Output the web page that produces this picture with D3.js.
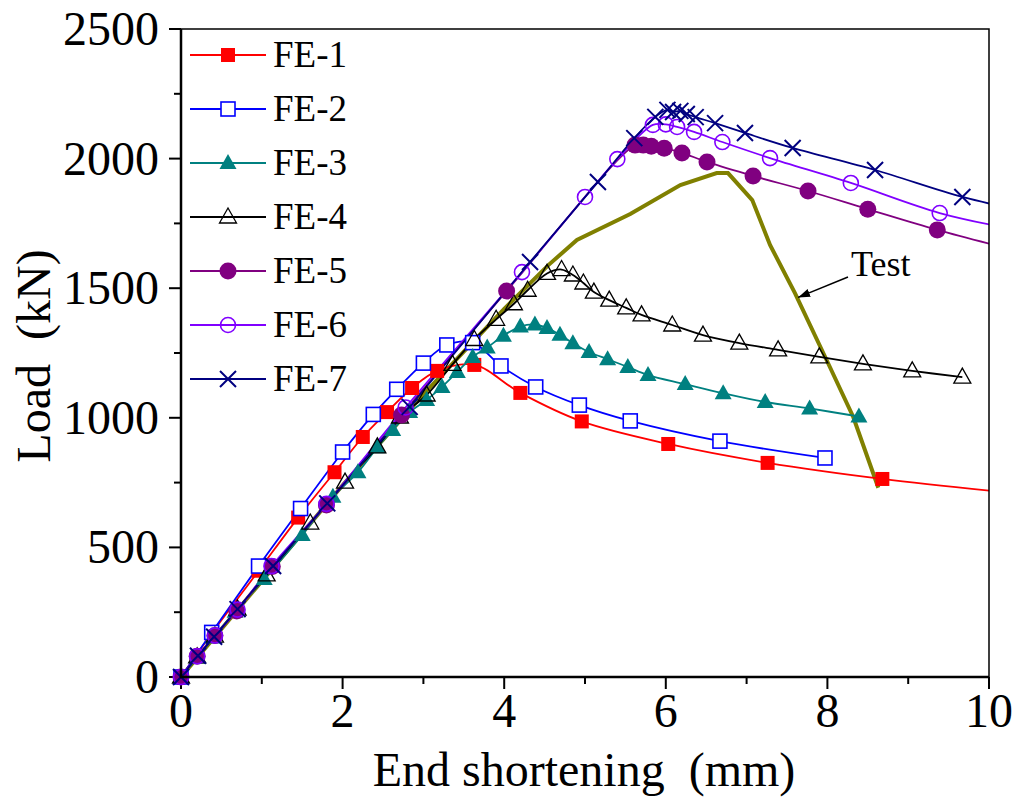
<!DOCTYPE html>
<html><head><meta charset="utf-8">
<script src="https://cdn.jsdelivr.net/npm/d3@7"></script>
<style>body{margin:0;background:#fff}svg{display:block}text{font-family:"Liberation Serif","Times New Roman",serif;fill:#000;white-space:pre}</style>
</head><body><svg id="c" width="1019" height="797"></svg>
<script>
// ---- data ----
const xTicks = [0, 2, 4, 6, 8, 10];
const yTicks = [0, 500, 1000, 1500, 2000, 2500];
const seriesNames = ["FE-1","FE-2","FE-3","FE-4","FE-5","FE-6","FE-7"];
const fe1 = [[0,0],[0.38,168],[0.96,410],[1.45,615],[1.9,790],[2.25,926],[2.55,1022],[2.86,1115],[3.17,1181],[3.63,1204],[4.2,1096],[4.96,986],[6.03,899],[7.26,826],[8.68,764],[10.6,700]];
const fe2 = [[0,0],[0.38,172],[0.96,428],[1.48,650],[2.0,868],[2.38,1013],[2.67,1110],[3.0,1211],[3.29,1281],[3.61,1290],[3.96,1200],[4.39,1119],[4.93,1049],[5.56,988],[6.67,910],[7.97,845]];
const fe3 = [[0,0],[0.2,75],[0.4,152],[0.67,252],[1.03,378],[1.5,548],[1.88,695],[2.19,790],[2.43,886],[2.62,953],[2.83,1022],[3.04,1069],[3.23,1119],[3.42,1177],[3.61,1235],[3.79,1271],[3.99,1317],[4.2,1352],[4.38,1360],[4.53,1346],[4.69,1320],[4.85,1288],[5.05,1254],[5.28,1226],[5.53,1196],[5.78,1165],[6.24,1130],[6.71,1095],[7.23,1061],[7.78,1036],[8.39,1005]];
const fe4 = [[0,0],[0.2,78],[0.42,158],[0.7,262],[1.06,394],[1.6,594],[2.03,752],[2.43,888],[2.71,1003],[3.04,1088],[3.36,1206],[3.63,1302],[3.9,1380],[4.12,1440],[4.29,1492],[4.53,1557],[4.71,1572],[4.85,1551],[4.98,1520],[5.11,1485],[5.3,1454],[5.51,1424],[5.7,1397],[6.08,1358],[6.46,1319],[6.91,1288],[7.39,1262],[7.9,1235],[8.44,1208],[9.05,1181],[9.67,1157]];
const fe5 = [[0,0],[0.2,80],[0.42,160],[0.69,255],[1.13,426],[1.8,664],[2.73,1011],[4.03,1489],[5.62,2052],[5.72,2052],[5.82,2048],[5.98,2040],[6.2,2022],[6.51,1987],[7.08,1933],[7.76,1875],[8.5,1805],[9.36,1725],[10.4,1640]];
const fe6 = [[0,0],[0.2,80],[0.42,160],[0.7,260],[1.12,428],[1.8,668],[2.78,1040],[4.22,1562],[5.0,1852],[5.4,1998],[5.84,2130],[6.0,2132],[6.14,2122],[6.35,2103],[6.7,2064],[7.29,2002],[8.29,1906],[9.39,1790],[10.4,1722]];
const fe7 = [[0,0],[0.21,82],[0.41,155],[0.7,262],[1.14,428],[1.81,670],[2.83,1042],[4.32,1601],[5.16,1910],[5.61,2079],[5.87,2161],[6.02,2188],[6.09,2180],[6.18,2184],[6.26,2172],[6.37,2160],[6.61,2137],[6.98,2099],[7.57,2041],[8.59,1956],[9.67,1852],[10.4,1800]];
const testCurve = [[0,0],[1,370],[2,740],[3,1090],[4,1420],[4.55,1590],[4.9,1686],[5.56,1786],[6.18,1898],[6.63,1944],[6.77,1944],[7.07,1840],[7.29,1667],[7.6,1480],[7.99,1223],[8.32,1003],[8.63,730]];
const testLabel = "Test";
const xTitle = "End shortening  (mm)";
const yTitle = "Load  (kN)";

// ---- styles ----
const colors = ["#ff0000","#0000ff","#008080","#000000","#800080","#8000ff","#000080"];
const shapes = ["squareF","squareO","triF","triO","circF","circO","x"];
const allData = [fe1,fe2,fe3,fe4,fe5,fe6,fe7];

const svg = d3.select("#c");
const L = 181, R = 989, T = 29, B = 677;
const x = d3.scaleLinear().domain([0,10]).range([L,R]);
const y = d3.scaleLinear().domain([0,2500]).range([B,T]);

svg.append("defs").append("clipPath").attr("id","clip").append("rect")
  .attr("x",L).attr("y",T).attr("width",R-L).attr("height",B-T);

function drawMarker(g, shape, cx, cy, color) {
  if (shape === "squareF" || shape === "squareO") {
    const s = 14;
    g.append("rect").attr("x",cx-s/2).attr("y",cy-s/2).attr("width",s).attr("height",s)
      .attr("fill", shape==="squareF"?color:"#fff").attr("stroke",color).attr("stroke-width", shape==="squareF"?0:1.6);
  } else if (shape === "triF" || shape === "triO") {
    const w = 17, h = 15;
    g.append("path").attr("d",`M${cx},${cy-h*0.6}L${cx+w/2},${cy+h*0.4}L${cx-w/2},${cy+h*0.4}Z`)
      .attr("fill", shape==="triF"?color:"none").attr("stroke",color).attr("stroke-width",shape==="triF"?0:1.3);
  } else if (shape === "circF" || shape === "circO") {
    g.append("circle").attr("cx",cx).attr("cy",cy).attr("r", shape==="circF"?8.5:7.5)
      .attr("fill", shape==="circF"?color:"none").attr("stroke",color).attr("stroke-width",shape==="circF"?0:1.6);
  } else {
    const d = 8;
    g.append("path").attr("d",`M${cx-d},${cy-d}L${cx+d},${cy+d}M${cx-d},${cy+d}L${cx+d},${cy-d}`)
      .attr("stroke",color).attr("stroke-width",2).attr("fill","none");
  }
}

const gAxes = svg.append("g");
d3.range(0,10.01,1).forEach(v=>{
  const major = Math.round(v)%2===0;
  gAxes.append("line").attr("x1",x(v)).attr("x2",x(v)).attr("y1",B).attr("y2",B+(major?12:7))
    .attr("stroke","#000").attr("stroke-width",2);
});
d3.range(0,2501,250).forEach(v=>{
  const major = v%500===0;
  gAxes.append("line").attr("y1",y(v)).attr("y2",y(v)).attr("x1",L).attr("x2",L-(major?12:7))
    .attr("stroke","#000").attr("stroke-width",2);
});
xTicks.forEach(v=>{
  gAxes.append("text").attr("x",x(v)).attr("y",B+50).attr("text-anchor","middle")
    .attr("font-size",48).text(v);
});
yTicks.forEach(v=>{
  gAxes.append("text").attr("x",L-22).attr("y",y(v)+16).attr("text-anchor","end")
    .attr("font-size",48).text(v);
});
svg.append("text").attr("x",(L+R)/2-1).attr("y",786).attr("text-anchor","middle").attr("font-size",48).text(xTitle);
svg.append("text").attr("transform",`translate(50,${(T+B)/2+3}) rotate(-90)`).attr("text-anchor","middle").attr("font-size",48).text(yTitle);

const plot = svg.append("g");
const lineSmooth = d3.line().x(d=>x(d[0])).y(d=>y(d[1])).curve(d3.curveCatmullRom.alpha(0.5));
const lineStraight = d3.line().x(d=>x(d[0])).y(d=>y(d[1]));

plot.append("path").attr("d",lineStraight(testCurve)).attr("fill","none")
  .attr("stroke","#808000").attr("stroke-width",4).attr("clip-path","url(#clip)");

allData.forEach((data,i)=>{
  plot.append("path").attr("d",lineSmooth(data)).attr("fill","none")
    .attr("stroke",colors[i]).attr("stroke-width",1.8).attr("clip-path","url(#clip)");
});
allData.forEach((data,i)=>{
  const g = plot.append("g");
  data.filter(d=>d[0]<=10).forEach(d=>drawMarker(g, shapes[i], x(d[0]), y(d[1]), colors[i]));
});

svg.append("path").attr("d",`M${L},${T}H${R}V${B}`).attr("fill","none").attr("stroke","#000").attr("stroke-width",1.5);
svg.append("path").attr("d",`M${L},${T}V${B}H${R}`).attr("fill","none").attr("stroke","#000").attr("stroke-width",2.5);

const lg = svg.append("g");
seriesNames.forEach((n,i)=>{
  const yy = 55 + i*54;
  lg.append("line").attr("x1",190).attr("x2",266).attr("y1",yy).attr("y2",yy).attr("stroke",colors[i]).attr("stroke-width",1.8);
  drawMarker(lg, shapes[i], 228, yy, colors[i]);
  lg.append("text").attr("x",273).attr("y",yy+12).attr("font-size",37).text(n);
});

const tip = testCurve[13];
svg.append("defs").append("marker").attr("id","arr").attr("viewBox","0 0 10 10").attr("refX",10).attr("refY",5)
  .attr("markerWidth",8).attr("markerHeight",8).attr("orient","auto")
  .append("path").attr("d","M0,1.5L10,5L0,8.5Z").attr("fill","#000");
svg.append("line").attr("x1",848).attr("y1",277).attr("x2",x(tip[0])+3).attr("y2",y(tip[1])+4)
  .attr("stroke","#000").attr("stroke-width",1.5).attr("marker-end","url(#arr)");
svg.append("text").attr("x",851).attr("y",276).attr("font-size",36).text(testLabel);
</script></body></html>
